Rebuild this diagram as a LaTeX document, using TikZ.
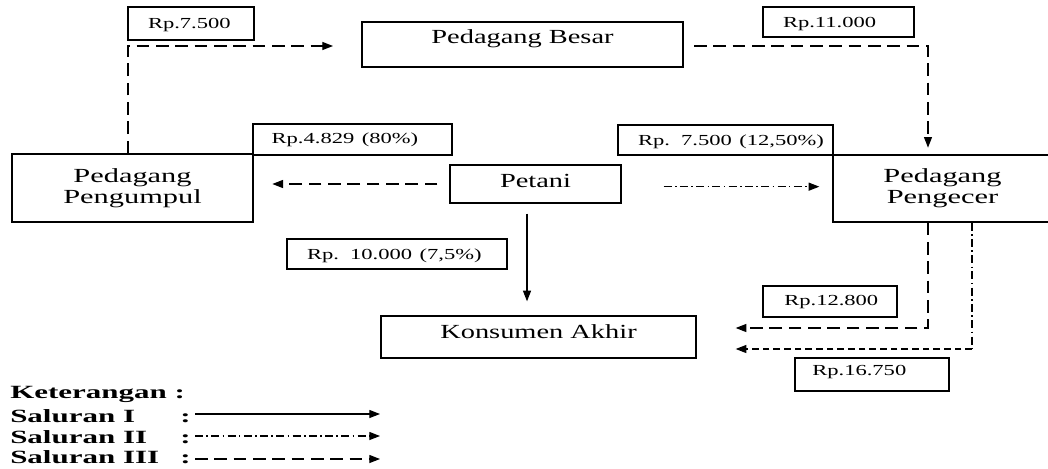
\documentclass[tikz,border=0pt]{standalone}
\usepackage{graphicx}
\usepackage{fontspec}
\setmainfont{Liberation Serif}
\usetikzlibrary{arrows.meta}
\newcommand{\sxm}[1]{\scalebox{1.42}[1]{#1}}
\newcommand{\sxt}[1]{\scalebox{1.52}[1]{#1}}
\newcommand{\sxl}[1]{\scalebox{1.47}[1]{#1}}
\newcommand{\sxg}[1]{\scalebox{1.66}[1]{#1}}
\tikzset{
  box/.style={draw, line width=1pt, inner sep=0pt, font=\fontsize{15}{15.75}\selectfont},
  lab/.style={draw, line width=1pt, inner sep=0pt, align=left, font=\fontsize{11.5}{13}\selectfont},
  leg/.style={inner sep=0pt, font=\fontsize{14}{15}\selectfont\bfseries},
  tip/.style={-{Triangle[length=8pt,width=6pt]}},
  sone/.style={line width=0.9pt},
  stwo/.style={line width=0.9pt, dash pattern=on 6pt off 2.5pt on 1.2pt off 2.5pt},
  stwod/.style={line width=0.9pt, dash pattern=on 5pt off 3pt},
  sthree/.style={line width=0.9pt, dash pattern=on 9.5pt off 5pt},
}
\begin{document}
\begin{tikzpicture}[x=0.75pt,y=-0.75pt]
\clip (0,0) rectangle (1048,468);
\useasboundingbox (0,0) rectangle (1048,468);
\fill[white] (0,0) rectangle (1048,468);

% main nodes
\node[box, minimum width=240.75pt, text height=15.75pt, text depth=18pt] (pb) at (522.5,44.5) {\sxm{Pedagang Besar}};
\node[box, minimum width=180.75pt, minimum height=51pt, align=center] (pu) at (132.5,188) {\sxt{Pedagang}\\\sxt{Pengumpul}};
\node[box, minimum width=128.25pt, text height=16.5pt, text depth=12pt] (pt) at (535.5,184) {\sxm{Petani}};
\node[box, minimum width=164.25pt, minimum height=50.25pt, align=center] (pg) at (942.5,188.5) {\sxt{Pedagang}\\\sxt{Pengecer}};
\node[box, minimum width=236.25pt, text height=16.5pt, text depth=15pt] (kn) at (538.5,337) {\sxm{Konsumen Akhir}};

% price labels
\node[lab, text width=94.5pt, text height=15.75pt, text depth=9pt] (l1) at (191,23.5) {\hspace*{15pt}\sxl{Rp.7.500}};
\node[lab, text width=113.25pt, text height=15pt, text depth=7.5pt] (l2) at (838.5,22) {\hspace*{15pt}\sxl{Rp.11.000}};
\node[lab, text width=149.25pt, text height=14.25pt, text depth=9pt] (l3) at (352.5,139.5) {\hspace*{14pt}\sxl{Rp.4.829 (80\%)}};
\node[lab, text width=161.25pt, text height=15pt, text depth=7.5pt] (l4) at (725.5,140) {\hspace*{15pt}\sxl{Rp. 7.500 (12,50\%)}};
\node[lab, text width=165pt, text height=15pt, text depth=7.5pt] (l5) at (397,254) {\hspace*{15pt}\sxl{Rp. 10.000 (7,5\%)}};
\node[lab, text width=100.5pt, text height=14.25pt, text depth=9pt] (l6) at (830,301.5) {\hspace*{16pt}\sxl{Rp.12.800}};
\node[lab, text width=115.5pt, text height=12.75pt, text depth=12pt] (l7) at (872,374.5) {\hspace*{13pt}\sxl{Rp.16.750}};

% connectors
\coordinate (a1) at (128,46);
\coordinate (a2) at (333,46);
\draw[sthree,tip] (pu.north -| a1) -- (a1) -- (a2);

\coordinate (b0) at (694,46);
\coordinate (b1) at (928,46);
\draw[sthree,tip,shorten >=5pt] (b0) -- (b1) -- (b1 |- pg.north);

\draw[sthree,tip,shorten <=9pt,shorten >=14pt] (pt.west) -- (pu.east |- pt.west);
\draw[stwo,tip,shorten <=31.5pt,shorten >=9.75pt] ([yshift=-2pt]pt.east) -- ([yshift=-2pt]pg.west |- pt.east);

\coordinate (c0) at (527,213);
\draw[sone,tip,shorten <=7.5pt,shorten >=10.5pt] (pt.south -| c0) -- (c0 |- kn.north);

\coordinate (d1) at (928,328);
\draw[sthree,tip,shorten >=29.25pt] (pg.south -| d1) -- (d1) -- (d1 -| kn.east);

\coordinate (e1) at (972,349);
\draw[stwo] (pg.south -| e1) -- (e1);
\draw[stwod,tip,shorten >=29.25pt] (e1) -- (e1 -| kn.east);

% legend
\node[leg, anchor=base west] (k0) at (10,398) {\sxg{Keterangan :}};
\node[leg, anchor=base west] (k1) at (10,422) {\sxg{Saluran I}};
\node[leg, anchor=base west] (k2) at (10,443) {\sxg{Saluran II}};
\node[leg, anchor=base west] (k3) at (10,463) {\sxg{Saluran III}};
\node[leg, anchor=base west] (q1) at (180,422) {\sxg{:}};
\node[leg, anchor=base west] (q2) at (180,443) {\sxg{:}};
\node[leg, anchor=base west] (q3) at (180,463) {\sxg{:}};
\coordinate (g1a) at (195,414); \coordinate (g1b) at (380,414);
\coordinate (g2a) at (195,436); \coordinate (g2b) at (380,436);
\coordinate (g3a) at (195,459); \coordinate (g3b) at (380,459);
\draw[sone,tip] (g1a) -- (g1b);
\draw[stwo,tip] (g2a) -- (g2b);
\draw[sthree,tip] (g3a) -- (g3b);
\end{tikzpicture}
\end{document}
